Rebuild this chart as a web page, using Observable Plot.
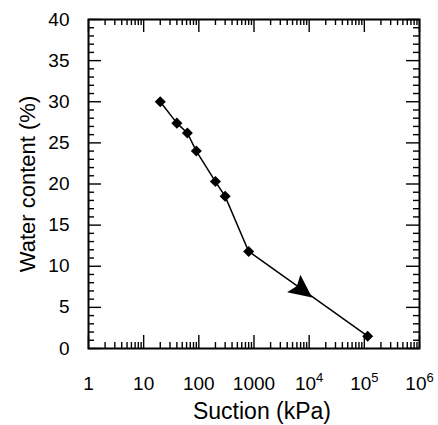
<!DOCTYPE html>
<html><head><meta charset="utf-8">
<script src="https://cdn.jsdelivr.net/npm/d3@7"></script>
<script src="https://cdn.jsdelivr.net/npm/@observablehq/plot@0.6"></script>
<style>body{margin:0;background:#fff}</style>
</head><body><div id="chart"></div>
<script>
// ---- data ----
const suction = [20, 40, 62, 90, 200, 300, 800, 115000];
const waterContent = [30.0, 27.4, 26.2, 24.0, 20.3, 18.5, 11.8, 1.5];
const arrowSuction = [6000];
const arrowWater = [7.6];
const xTickValues = [1, 10, 100, 1000, 1e4, 1e5, 1e6];
const xTickLabels = ["1", "10", "100", "1000", "10^4", "10^5", "10^6"];
const yTickValues = [0, 5, 10, 15, 20, 25, 30, 35, 40];
const yTickLabels = ["0", "5", "10", "15", "20", "25", "30", "35", "40"];
const xTitle = "Suction (kPa)";
const yTitle = "Water content (%)";

// ---- layout ----
const W = 438, H = 425, mL = 88, mR = 19, mT = 19, mB = 77;
const innerW = W - mL - mR, innerH = H - mT - mB;
const majorLen = 13, minorLen = 6;
const minorX = [];
for (let e = 0; e < 6; e++) for (let k = 2; k <= 9; k++) minorX.push(k * 10 ** e);
const minorY = d3.range(0, 41, 1).filter(v => v % 5 !== 0);

const points = suction.map((s, i) => ({s, w: waterContent[i]}));
const arrows = arrowSuction.map((s, i) => ({s, w: arrowWater[i]}));

const arrowHead = {draw(ctx) {
  ctx.moveTo(19, 0); ctx.lineTo(-4, -11); ctx.lineTo(0, 0); ctx.lineTo(-4, 11); ctx.closePath();
}};

const tickStroke = {stroke: "black", strokeWidth: 1.4};

const chart = Plot.plot({
  width: W, height: H,
  marginLeft: mL, marginRight: mR, marginTop: mT, marginBottom: mB,
  style: {fontFamily: "'Liberation Sans', Arial, Helvetica, sans-serif", fontSize: "19px", background: "white", color: "black"},
  x: {type: "log", domain: [1, 1e6]},
  y: {domain: [0, 40]},
  marks: [
    // ticks: x bottom/top
    Plot.ruleX(xTickValues, {x: d => d, insetTop: innerH - majorLen, ...tickStroke}),
    Plot.ruleX(minorX, {x: d => d, insetTop: innerH - minorLen, ...tickStroke}),
    Plot.ruleX(xTickValues, {x: d => d, insetBottom: innerH - majorLen, ...tickStroke}),
    Plot.ruleX(minorX, {x: d => d, insetBottom: innerH - minorLen, ...tickStroke}),
    // ticks: y left/right
    Plot.ruleY(yTickValues, {y: d => d, insetRight: innerW - majorLen, ...tickStroke}),
    Plot.ruleY(minorY, {y: d => d, insetRight: innerW - minorLen, ...tickStroke}),
    Plot.ruleY(yTickValues, {y: d => d, insetLeft: innerW - majorLen, ...tickStroke}),
    Plot.ruleY(minorY, {y: d => d, insetLeft: innerW - minorLen, ...tickStroke}),
    Plot.axisX({ticks: xTickValues, tickSize: 0, tickPadding: 28, label: null,
      tickFormat: d => xTickLabels[xTickValues.indexOf(d)]}),
    Plot.axisY({ticks: yTickValues, tickSize: 0, tickPadding: 19, label: null,
      tickFormat: d => yTickLabels[yTickValues.indexOf(d)]}),
    Plot.frame({stroke: "black", strokeWidth: 2}),
    Plot.line(points, {x: "s", y: "w", stroke: "black", strokeWidth: 1.5}),
    Plot.dot(points, {x: "s", y: "w", symbol: "square", r: 4.4, rotate: 45, fill: "black", stroke: "none"}),
    Plot.dot(arrows, {x: "s", y: "w", symbol: arrowHead, rotate: 37, fill: "black", stroke: "none"}),
    Plot.text([xTitle], {text: d => d, frameAnchor: "bottom", dy: 70, dx: 8, lineAnchor: "bottom", textAnchor: "middle", fontSize: 23}),
    Plot.text([yTitle], {text: d => d, frameAnchor: "left", dx: -61, rotate: -90, textAnchor: "middle", lineAnchor: "middle", fontSize: 22})
  ]
});

// superscript exponents
chart.querySelectorAll("text").forEach(t => {
  const m = /^10\^(\d)$/.exec(t.textContent);
  if (m) {
    t.textContent = "10";
    const sup = document.createElementNS("http://www.w3.org/2000/svg", "tspan");
    sup.setAttribute("font-size", "13");
    sup.setAttribute("dy", "-8");
    sup.textContent = m[1];
    t.appendChild(sup);
  }
});
document.getElementById("chart").append(chart);
</script>
</body></html>
